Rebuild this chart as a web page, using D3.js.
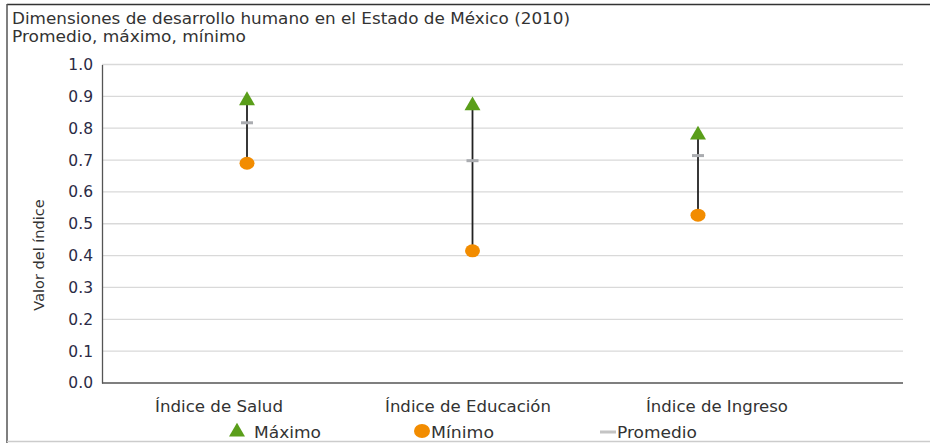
<!DOCTYPE html>
<html><head><meta charset="utf-8">
<script src="https://cdn.jsdelivr.net/npm/d3@7"></script>
<style>body{margin:0;background:#fff}svg{display:block}text{font-family:"DejaVu Sans",sans-serif}</style>
</head><body><svg id="c" width="930" height="443"></svg>
<script>
const categories = ["Índice de Salud", "Índice de Educación", "Índice de Ingreso"];
const maxValues = [0.89, 0.874, 0.782];
const avgValues = [0.817, 0.698, 0.714];
const minValues = [0.69, 0.415, 0.527];
const yTicks = [0, 0.1, 0.2, 0.3, 0.4, 0.5, 0.6, 0.7, 0.8, 0.9, 1.0];
const titleLines = ["Dimensiones de desarrollo humano en el Estado de México (2010)", "Promedio, máximo, mínimo"];
const legendItems = ["Máximo", "Mínimo", "Promedio"];

const svg = d3.select("#c");
const L = 102, R = 903, T = 64.5, B = 383;
const y = d3.scaleLinear().domain([0, 1]).range([B, T]);
const xMark = d3.scalePoint().domain(categories).range([247, 698]);
const xLab = d3.scalePoint().domain(categories).range([219, 717]);

// frame
svg.append("line").attr("x1", 7).attr("x2", 930).attr("y1", 4.5).attr("y2", 4.5).attr("stroke", "#333").attr("stroke-width", 1.5);
svg.append("line").attr("x1", 7).attr("x2", 7).attr("y1", 4).attr("y2", 443).attr("stroke", "#555").attr("stroke-width", 1.5);
svg.append("line").attr("x1", 7).attr("x2", 930).attr("y1", 441.5).attr("y2", 441.5).attr("stroke", "#ccc").attr("stroke-width", 1.5);

// title
const titleW = [558, 234];
svg.selectAll("text.title").data(titleLines).join("text").attr("class", "title")
  .attr("x", 12).attr("y", (d, i) => 24 + i * 18).attr("font-size", 15.5).attr("fill", "#333")
  .attr("textLength", (d, i) => titleW[i]).attr("lengthAdjust", "spacingAndGlyphs").text(d => d);

// grid
svg.append("g").selectAll("line").data(yTicks.filter(d => d > 0)).join("line")
  .attr("x1", L).attr("x2", R).attr("y1", d => y(d)).attr("y2", d => y(d))
  .attr("stroke", "#d9d9d9").attr("stroke-width", 1.3);

// y axis
const yAxis = svg.append("g").attr("transform", `translate(${L},0)`)
  .call(d3.axisLeft(y).tickValues(yTicks).tickFormat(d3.format(".1f")).tickSize(0).tickPadding(9));
yAxis.select(".domain").attr("stroke", "#555").attr("stroke-width", 1.3);
yAxis.selectAll("text").attr("font-size", 15.5).attr("fill", "#2b2b45").style("font-family", '"DejaVu Sans",sans-serif');
svg.append("line").attr("x1", L).attr("x2", R).attr("y1", B).attr("y2", B).attr("stroke", "#555").attr("stroke-width", 1.5);

svg.append("text").attr("transform", `translate(44,255) rotate(-90)`).attr("text-anchor", "middle")
  .attr("font-size", 14.5).attr("fill", "#333").text("Valor del índice");

// x labels
const labW = [128, 166, 142];
svg.selectAll("text.xl").data(categories).join("text").attr("class", "xl")
  .attr("x", d => xLab(d)).attr("y", 412).attr("text-anchor", "middle")
  .attr("font-size", 15.5).attr("fill", "#333")
  .attr("textLength", (d, i) => labW[i]).attr("lengthAdjust", "spacingAndGlyphs").text(d => d);

// marks
const idx = d3.range(categories.length);
svg.append("g").selectAll("line").data(idx).join("line")
  .attr("x1", i => xMark(categories[i])).attr("x2", i => xMark(categories[i]))
  .attr("y1", i => y(maxValues[i])).attr("y2", i => y(minValues[i]))
  .attr("stroke", "#222").attr("stroke-width", 1.8);
svg.append("g").selectAll("rect").data(idx).join("rect")
  .attr("x", i => xMark(categories[i]) - 6).attr("y", i => y(avgValues[i]) - 1.5)
  .attr("width", 12).attr("height", 3).attr("fill", "#aaacb0");
const tri = d3.symbol().type(d3.symbolTriangle).size(110);
svg.append("g").selectAll("path").data(idx).join("path")
  .attr("transform", i => `translate(${xMark(categories[i])},${y(maxValues[i]) + 1})`)
  .attr("d", tri).attr("fill", "#5a9e1a");
svg.append("g").selectAll("ellipse").data(idx).join("ellipse")
  .attr("cx", i => xMark(categories[i])).attr("cy", i => y(minValues[i]))
  .attr("rx", 7.5).attr("ry", 6.5).attr("fill", "#f28c00");

// legend
const lg = svg.append("g");
lg.append("path").attr("transform", "translate(237,432)").attr("d", tri).attr("fill", "#5a9e1a");
lg.append("ellipse").attr("cx", 422).attr("cy", 431).attr("rx", 8).attr("ry", 7).attr("fill", "#f28c00");
lg.append("rect").attr("x", 600).attr("y", 430.5).attr("width", 16).attr("height", 3).attr("fill", "#c4c4c4");
const lx = [254, 431, 617];
const lw = [67, 63, 80];
lg.selectAll("text").data(legendItems).join("text")
  .attr("x", (d, i) => lx[i]).attr("y", 438).attr("font-size", 15.5).attr("fill", "#333")
  .attr("textLength", (d, i) => lw[i]).attr("lengthAdjust", "spacingAndGlyphs").text(d => d);
</script></body></html>
